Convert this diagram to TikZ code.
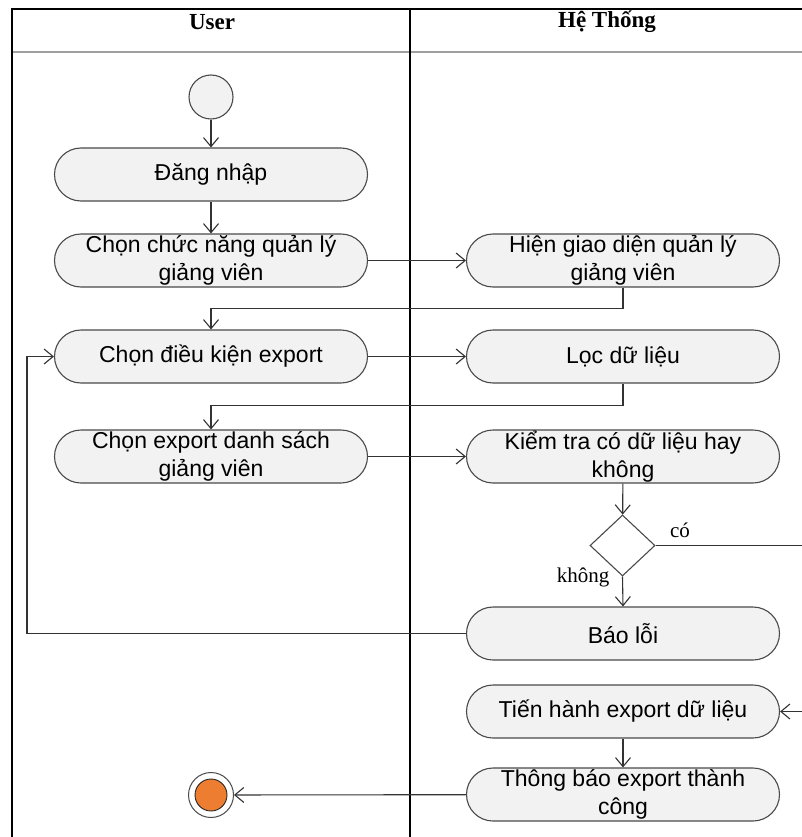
\documentclass[tikz,border=0pt]{standalone}
\usepackage{fontspec}
\setmainfont{Liberation Serif}
\newfontfamily\actfont{Liberation Sans}
\usetikzlibrary{arrows.meta,shapes.geometric}
\definecolor{actfill}{HTML}{F2F2F2}
\definecolor{actline}{HTML}{4A4A4A}
\definecolor{endfill}{HTML}{ED7D31}
\tikzset{
  act/.style={draw=actline, line width=1.1pt, fill=actfill, rectangle,
    rounded corners=26.5pt, minimum width=313pt, minimum height=53pt,
    inner sep=0pt, align=center, font=\actfont\fontsize{23}{27.5}\selectfont},
  flow/.style={draw=black!80, line width=1.1pt,
    -{Straight Barb[length=9pt,width=15pt,line width=1.1pt]}},
  lane/.style={draw=black, line width=1.1pt},
  lanehead/.style={font=\bfseries\fontsize{23}{25}\selectfont},
  guard/.style={font=\fontsize{21}{23}\selectfont},
}
\begin{document}
\begin{tikzpicture}[x=1pt,y=-1pt]
\useasboundingbox (0,0) rectangle (801,837);
\fill[white] (0,0) rectangle (801,837);

% swimlanes
\draw[gray!75, line width=2.6pt] (12,52) -- (810,52);
\draw[lane] (12,840) -- (12,9) -- (810,9);
\draw[lane] (410,9) -- (410,840);
\node[lanehead] (hUser) at (212,22) {User};
\node[lanehead] (hSys) at (607,22) {Hệ Thống};

% user lane
\node[circle, draw=actline, line width=1.1pt, fill=actfill, minimum size=44pt, inner sep=0pt] (start) at (211,97) {};
\node[act] (login) at (211,174.5) {Đăng nhập};
\node[act] (chon) at (211,260.5) {Chọn chức năng quản lý\\giảng viên};
\node[act] (dk) at (211,356.5) {Chọn điều kiện export};
\node[act] (ds) at (211,456.5) {Chọn export danh sách\\giảng viên};
\node[circle, draw=actline, line width=1pt, fill=white, minimum size=45pt, inner sep=0pt] (end) at (211,795) {};
\fill[endfill, draw=black!85, line width=0.9pt] (end.center) circle (16pt);

% system lane
\node[act] (hien) at (623,260.5) {Hiện giao diện quản lý\\giảng viên};
\node[act] (loc) at (623,356.5) {Lọc dữ liệu};
\node[act] (kt) at (623,456.5) {Kiểm tra có dữ liệu hay\\không};
\node[diamond, draw=actline, line width=1.1pt, fill=white, minimum width=65pt, minimum height=61pt, aspect=1.07, inner sep=0pt] (dec) at (622.5,545.5) {};
\node[act] (bao) at (623,633.5) {Báo lỗi};
\node[act] (tien) at (623,711.5) {Tiến hành export dữ liệu};
\node[act] (tb) at (623,794.5) {Thông báo export thành\\công};

% turning points of the long connectors
\coordinate (leftrail) at (27,0);
\coordinate (rightrail) at (812,0);

% flows
\draw[flow] (start) -- (login);
\draw[flow] (login) -- (chon);
\draw[flow] (chon) -- (hien);
\draw[flow] (hien.south) -- ++(0,21) -| (dk.north);
\draw[flow] (dk) -- (loc);
\draw[flow] (loc.south) -- ++(0,22) -| (ds.north);
\draw[flow] (ds) -- (kt);
\draw[flow] (kt) -- (dec);
\draw[flow] (dec.south) -- (bao.north);
\draw[flow] (dec.east) -- (dec.east -| rightrail) |- (tien.east);
\draw[flow] (bao.west) -- (bao.west -| leftrail) |- (dk.west);
\draw[flow] (tien) -- (tb);
\draw[flow] (tb) -- (end);

% guards
\node[guard] (gyes) at (680,530) {có};
\node[guard] (gno) at (583,577) {không};
\end{tikzpicture}
\end{document}
